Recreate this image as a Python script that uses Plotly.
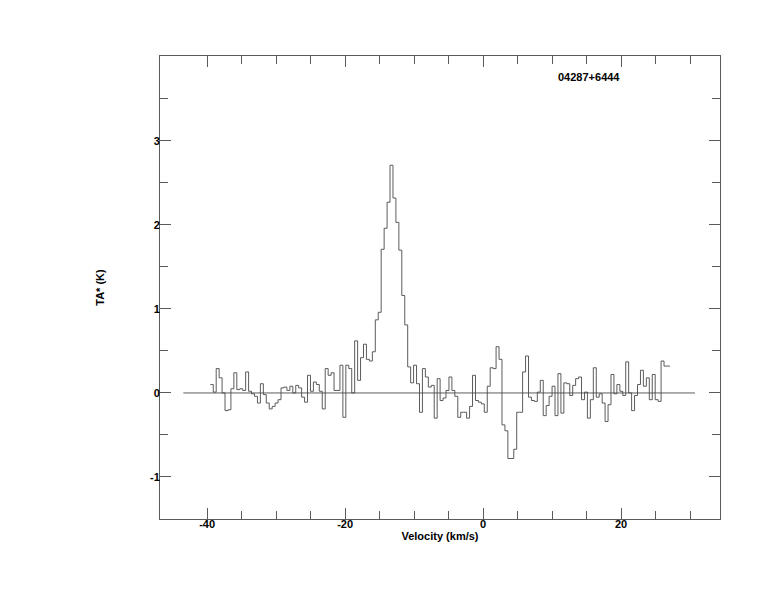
import numpy as np
import plotly.graph_objects as go

# Spectrum: channel velocity grid and antenna temperature per channel
v_start = -39.54          # km/s, left edge of first channel
dv = 0.427                # km/s, channel width
ta = [0.10, 0.01, 0.29, 0.18, 0.00, -0.21, -0.20, 0.05, 0.24, 0.04,
      0.05, 0.03, 0.25, 0.02, -0.01, -0.04, -0.12, 0.11, -0.02, -0.12,
      -0.19, -0.16, -0.12, -0.08, 0.06, 0.07, 0.03, 0.08, 0.00, 0.09,
      0.06, -0.05, -0.11, 0.21, 0.02, 0.13, 0.10, 0.02, -0.19, 0.29,
      0.21, 0.24, 0.03, 0.03, 0.33,
      -0.29, 0.33, 0.29, 0.00, 0.62, 0.15, 0.42, 0.58, 0.40, 0.38,
      0.49, 0.87, 0.96, 1.71, 1.96, 2.27, 2.71, 2.32, 2.03, 1.70,
      1.16, 0.81, 0.31, 0.12, 0.33, 0.11, -0.23, 0.29, 0.19,
      0.07, 0.09, -0.30, 0.17, -0.09, -0.06, 0.03, 0.19, 0.03, -0.04,
      -0.29, -0.23, -0.23, -0.30, -0.16, 0.21, -0.09, -0.11, -0.13, -0.23,
      0.08, 0.30, 0.29, 0.55, 0.40, -0.38, -0.45, -0.78, -0.78, -0.67,
      -0.23, -0.23, 0.25, 0.44, -0.05, -0.09, -0.10, 0.01,
      0.15, -0.27, -0.15, -0.04, 0.08, -0.27, 0.23, -0.24, 0.12, 0.11,
      -0.03, 0.09, 0.17, 0.19, -0.08, 0.01, -0.30, -0.08, 0.30, -0.05,
      -0.01, -0.12, -0.34, -0.14, 0.22, -0.01, 0.10, 0.02, -0.03, 0.37,
      0.00, -0.21, -0.03, 0.10, 0.27, 0.08, 0.18, -0.08, 0.22, -0.08,
      -0.10, 0.38, 0.32, 0.32]

baseline_v = [-43.45, 30.7]   # extent of the zero baseline
source_name = "04287+6444"

x_major = [-40, -20, 0, 20]
x_minor = [-35, -30, -25, -15, -10, -5, 5, 10, 15, 25, 30]
y_major = [-1, 0, 1, 2, 3]
y_minor = [-0.5, 0.5, 1.5, 2.5, 3.5]

edges = v_start + dv * np.arange(len(ta) + 1)
yvals = ta + [ta[-1]]

axis_col = "#5a5a5a"
line_col = "#4a4a4a"

fig = go.Figure()
fig.add_trace(go.Scatter(x=baseline_v, y=[0, 0], mode="lines",
                         line=dict(color=line_col, width=0.9), hoverinfo="skip"))
fig.add_trace(go.Scatter(x=edges, y=yvals, mode="lines",
                         line=dict(color=line_col, width=0.9, shape="hv")))

fig.update_layout(
    width=760, height=600,
    margin=dict(l=152, r=48, t=48, b=89),
    plot_bgcolor="white", paper_bgcolor="white",
    showlegend=False,
    font=dict(family="Liberation Sans, Arial, sans-serif", size=11, color="black"),
    annotations=[dict(text="<b>%s</b>" % source_name, x=0.7657, y=0.9546,
                      xref="paper", yref="paper", showarrow=False,
                      xanchor="center", yanchor="middle",
                      font=dict(size=11, color="black"))],
)

common = dict(ticks="inside", tickcolor=axis_col, tickwidth=1,
              showline=True, linecolor=axis_col, linewidth=1,
              mirror="allticks", showgrid=False, zeroline=False,
              tickfont=dict(size=11, weight="bold"))

fig.update_xaxes(range=[-46.83, 34.33], tickmode="array", tickvals=x_major,
                 ticktext=[str(v) for v in x_major], ticklen=11,
                 ticklabelstandoff=-5,
                 minor=dict(ticks="inside", tickmode="array", tickvals=x_minor,
                            ticklen=8, tickcolor=axis_col, showgrid=False),
                 title=dict(text="<b>Velocity (km/s)</b>", standoff=3,
                            font=dict(size=11)),
                 **common)
fig.update_yaxes(range=[-1.5, 4.01], tickmode="array", tickvals=y_major,
                 ticktext=[str(v) for v in y_major], ticklen=11,
                 ticklabelstandoff=-3,
                 minor=dict(ticks="inside", tickmode="array", tickvals=y_minor,
                            ticklen=8, tickcolor=axis_col, showgrid=False),
                 title=dict(text="<b>TA* (K)</b>", standoff=43,
                            font=dict(size=11)),
                 **common)

fig.write_html("out.html")
